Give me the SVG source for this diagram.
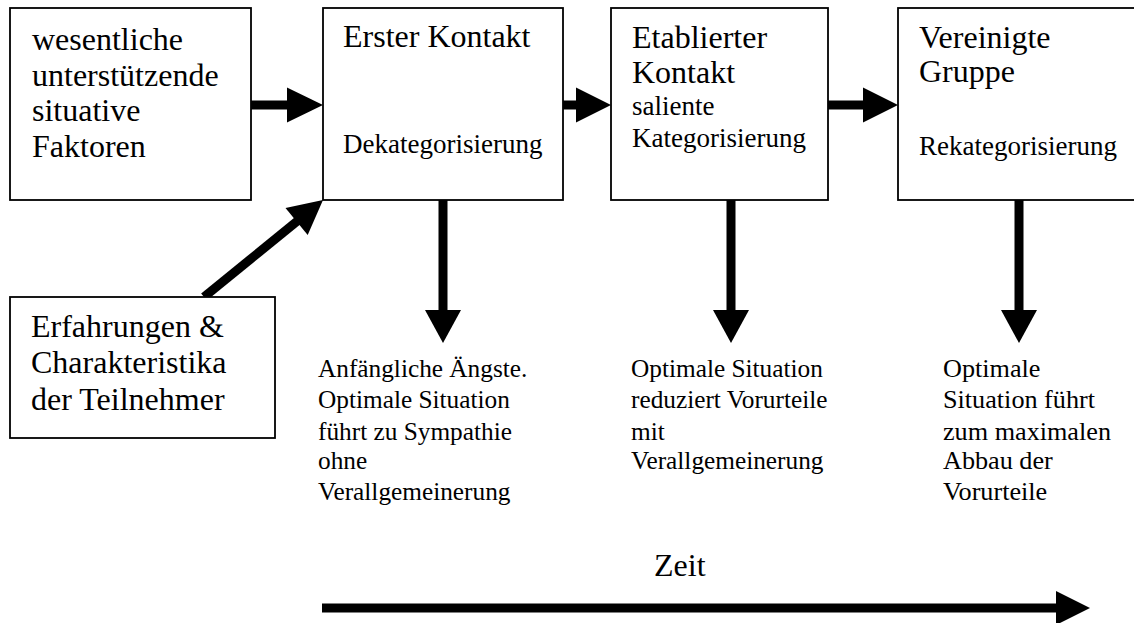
<svg xmlns="http://www.w3.org/2000/svg" width="1134" height="623" viewBox="0 0 1134 623">
<style>
.box{fill:#fff;stroke:#000;stroke-width:1.8}
.t{font-family:"Liberation Serif","Times New Roman",serif;fill:#000}
.big{font-size:32px}
.mid{font-size:27px}
.sm{font-size:25.3px}
.sm3{font-size:26.2px}
.shaft{stroke:#000;stroke-width:9;fill:none}
.head{fill:#000}
</style>
<rect width="1134" height="623" fill="#fff"/>
<g id="connectors">
<line class="shaft" x1="251" y1="105" x2="289" y2="105"/>
<polygon class="head" points="287,87.5 323,105 287,122.5"/>
<line class="shaft" x1="563" y1="105" x2="578" y2="105"/>
<polygon class="head" points="576,87.5 611,105 576,122.5"/>
<line class="shaft" x1="828" y1="105" x2="865" y2="105"/>
<polygon class="head" points="863,87.5 898,105 863,122.5"/>
<line class="shaft" x1="204" y1="297" x2="298" y2="220.5"/>
<polygon class="head" points="323,200 285.5,207.9 307.7,235.1"/>
<line class="shaft" x1="443" y1="200" x2="443" y2="312"/>
<polygon class="head" points="425,310 461,310 443,343"/>
<line class="shaft" x1="731" y1="200" x2="731" y2="312"/>
<polygon class="head" points="713,310 749,310 731,343"/>
<line class="shaft" x1="1019" y1="200" x2="1019" y2="312"/>
<polygon class="head" points="1001,310 1037,310 1019,343"/>
<line class="shaft" x1="322" y1="608" x2="1058" y2="608"/>
<polygon class="head" points="1056,591 1090,608 1056,625"/>
</g>
<g id="node-factors">
<rect class="box" x="10" y="8" width="241" height="192"/>
<text class="t big" x="32" y="50">wesentliche</text>
<text class="t big" x="32" y="85.5">unterstützende</text>
<text class="t big" x="32" y="121">situative</text>
<text class="t big" x="32" y="156.5">Faktoren</text>
</g>
<g id="node-first">
<rect class="box" x="323" y="8" width="240" height="192"/>
<text class="t big" x="343" y="47">Erster Kontakt</text>
<text class="t mid" x="343" y="153">Dekategorisierung</text>
</g>
<g id="node-established">
<rect class="box" x="611" y="8" width="217" height="192"/>
<text class="t big" x="632" y="48">Etablierter</text>
<text class="t big" x="632" y="83">Kontakt</text>
<text class="t mid" x="632" y="115">saliente</text>
<text class="t mid" x="632" y="147">Kategorisierung</text>
</g>
<g id="node-united">
<rect class="box" x="898" y="8" width="240" height="192"/>
<text class="t big" x="919" y="48">Vereinigte</text>
<text class="t big" x="919" y="82">Gruppe</text>
<text class="t mid" x="919" y="155">Rekategorisierung</text>
</g>
<g id="node-experience">
<rect class="box" x="10" y="297" width="265" height="141"/>
<text class="t big" x="31" y="337">Erfahrungen &amp;</text>
<text class="t big" x="31" y="373">Charakteristika</text>
<text class="t big" x="31" y="410">der Teilnehmer</text>
</g>
<g id="label-first">
<text class="t sm" x="318" y="377">Anfängliche Ängste.</text>
<text class="t sm" x="318" y="408">Optimale Situation</text>
<text class="t sm" x="318" y="440">führt zu Sympathie</text>
<text class="t sm" x="318" y="469">ohne</text>
<text class="t sm" x="318" y="500">Verallgemeinerung</text>
</g>
<g id="label-established">
<text class="t sm" x="631" y="377">Optimale Situation</text>
<text class="t sm" x="631" y="408">reduziert Vorurteile</text>
<text class="t sm" x="631" y="440">mit</text>
<text class="t sm" x="631" y="469">Verallgemeinerung</text>
</g>
<g id="label-united">
<text class="t sm3" x="943" y="377">Optimale</text>
<text class="t sm3" x="943" y="408">Situation führt</text>
<text class="t sm3" x="943" y="440">zum maximalen</text>
<text class="t sm3" x="943" y="469">Abbau der</text>
<text class="t sm3" x="943" y="500">Vorurteile</text>
</g>
<g id="label-time">
<text class="t big" x="654" y="576">Zeit</text>
</g>
</svg>
